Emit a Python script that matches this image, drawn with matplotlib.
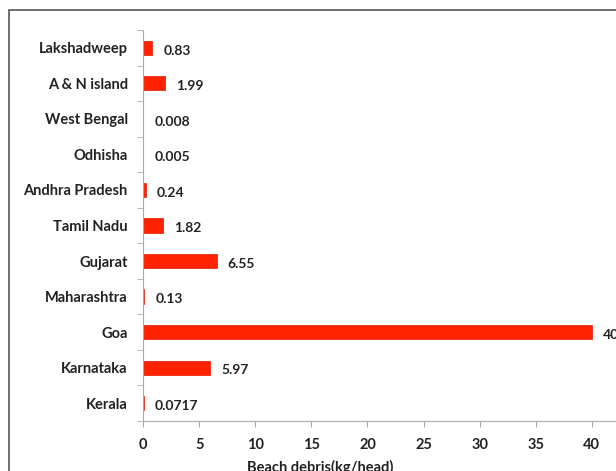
import matplotlib.pyplot as plt
from matplotlib.patches import Rectangle

states = ["Kerala", "Karnataka", "Goa", "Maharashtra", "Gujarat", "Tamil Nadu",
          "Andhra Pradesh", "Odhisha", "West Bengal", "A & N island", "Lakshadweep"]
debris = [0.0717, 5.97, 40, 0.13, 6.55, 1.82, 0.24, 0.005, 0.008, 1.99, 0.83]
labels = ["0.0717", "5.97", "40", "0.13", "6.55", "1.82", "0.24", "0.005", "0.008", "1.99", "0.83"]

plt.rcParams['font.family'] = ['Lato', 'DejaVu Sans']

fig = plt.figure(figsize=(6.16, 4.71), dpi=100)
fig.patches.append(Rectangle((9 / 616, -0.1), 1.2, 1 - 10 / 471 + 0.1, transform=fig.transFigure,
                             fill=False, edgecolor='#555555', linewidth=1.2))

ax = fig.add_axes([143 / 616, 1 - 421 / 471, 505 / 616, 391 / 471])
y = list(range(len(states)))
ax.barh(y, debris, height=0.4, color='#ff2200', edgecolor='#e01800', linewidth=0.5)

for yi, v, lab in zip(y, debris, labels):
    ax.annotate(lab, (v, yi), xytext=(8, -2), textcoords='offset points',
                va='center', ha='left', fontsize=10, fontweight='bold', color='#222222')

ax.set_xlim(0, 45)
ax.set_ylim(-0.5, len(states) - 0.5)
ax.set_xticks(range(0, 45, 5))
ax.set_yticks(y)
ax.set_yticklabels(states, fontsize=10.5, fontweight='bold', color='#222222')
ax.set_yticks([i - 0.5 for i in range(len(states) + 1)], minor=True)
ax.tick_params(axis='y', which='major', length=0, pad=11)
ax.tick_params(axis='y', which='minor', length=4, color='#aaaaaa')
ax.tick_params(axis='x', length=4, color='#aaaaaa', labelsize=10.5, pad=8)
for t in ax.get_xticklabels():
    t.set_fontweight('bold')
    t.set_color('#222222')

for s in ['top', 'right']:
    ax.spines[s].set_visible(False)
ax.spines['left'].set_color('#aaaaaa')
ax.spines['bottom'].set_color('#aaaaaa')

ax.set_xlabel("Beach debris(kg/head)", fontsize=10.5, fontweight='bold', color='#222222')
ax.xaxis.set_label_coords(0.35, -0.10)

fig.savefig("out.png", dpi=100)
